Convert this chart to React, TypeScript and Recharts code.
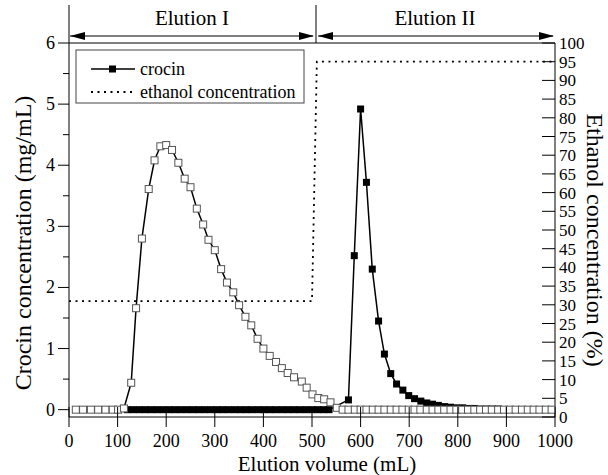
import React from "react";
import {
  ComposedChart,
  Line,
  XAxis,
  YAxis,
  ReferenceLine,
} from "recharts";

const FONT = "'Liberation Serif', 'Times New Roman', serif";

// open squares: elution I fractions, then baseline after the step
const openVolume = [
  14, 29, 45, 60, 75, 90, 101, 113, 128, 138, 150, 164, 176, 188, 200, 212, 225, 238,
  250, 263, 276, 287, 300, 313, 325, 338, 350, 363, 375, 388, 400, 413, 426, 438, 450,
  463, 479, 489, 501, 513, 525, 538, 551, 563, 575, 588, 600, 612, 625, 637, 649, 662,
  674, 686, 699, 711, 723, 736, 748, 760, 772, 785, 797, 809, 821, 834, 846, 858, 870,
  883, 895, 907, 919, 932, 944, 956, 968, 981, 993,
];
const openCrocin = [
  0, 0, 0, 0, 0, 0, 0, 0.02, 0.44, 1.66, 2.8, 3.61, 4.08, 4.31, 4.33, 4.25, 4.04, 3.78,
  3.64, 3.29, 3.03, 2.78, 2.61, 2.3, 2.08, 1.92, 1.71, 1.52, 1.38, 1.16, 1.0, 0.88, 0.78,
  0.68, 0.6, 0.53, 0.46, 0.36, 0.25, 0.19, 0.17, 0.12, 0.03, 0, 0, 0, 0, 0, 0, 0, 0, 0,
  0, 0, 0, 0, 0, 0, 0, 0, 0, 0, 0, 0, 0, 0, 0, 0, 0, 0, 0, 0, 0, 0, 0, 0, 0, 0, 0,
];

// filled squares: baseline during elution I, then elution II peak
const filledVolume = [
  120, 132, 145, 157, 169, 181, 194, 206, 218, 230, 243, 255, 267, 279, 292, 304, 316,
  328, 341, 353, 365, 377, 390, 402, 414, 426, 439, 451, 463, 475, 488, 500, 512, 524,
  535, 575, 587, 600, 612, 624, 637, 649, 662, 674, 687, 699, 711, 724, 736, 748, 760,
  773, 785, 797, 810, 822, 834, 846, 859, 871, 883,
];
const filledCrocin = [
  0, 0, 0, 0, 0, 0, 0, 0, 0, 0, 0, 0, 0, 0, 0, 0, 0, 0, 0, 0, 0, 0, 0, 0, 0, 0, 0, 0, 0,
  0, 0, 0, 0, 0, 0, 0.16, 2.52, 4.92, 3.72, 2.3, 1.45, 0.91, 0.59, 0.42, 0.32, 0.23,
  0.18, 0.14, 0.11, 0.09, 0.07, 0.05, 0.04, 0.03, 0.03, 0.02, 0.02, 0.01, 0.01, 0.01,
  0.01,
];

const ethanolVolume = [0, 500, 510, 1000];
const ethanolPercent = [31, 31, 95, 95];

const xTicks = [0, 100, 200, 300, 400, 500, 600, 700, 800, 900, 1000];
const leftTicks = [0, 0.5, 1, 1.5, 2, 2.5, 3, 3.5, 4, 4.5, 5, 5.5, 6];
const rightTicks = [0, 5, 10, 15, 20, 25, 30, 35, 40, 45, 50, 55, 60, 65, 70, 75, 80, 85, 90, 95, 100];

const openData = openVolume.map((v, i) => ({ v, c: openCrocin[i] }));
const filledData = filledVolume.map((v, i) => ({ v, c: filledCrocin[i] }));
const ethanolData = ethanolVolume.map((v, i) => ({ v, e: ethanolPercent[i] }));

const OpenSquare = (p: any) => (
  <rect key={`o${p.index}`} x={p.cx - 3.5} y={p.cy - 3.5} width={7} height={7} fill="#fff" stroke="#555" strokeWidth={1} />
);
const FilledSquare = (p: any) => (
  <rect key={`f${p.index}`} x={p.cx - 3.5} y={p.cy - 3.5} width={7} height={7} fill="#000" />
);

const LeftTick = ({ x, y, payload }: any) => {
  const major = Number.isInteger(payload.value);
  return (
    <g>
      <line x1={x - (major ? 11 : 6)} x2={x} y1={y} y2={y} stroke="#000" />
      {major && (
        <text x={x - 14} y={y} dy={6} textAnchor="end" fontSize={18} fontFamily={FONT} fill="#000">
          {payload.value}
        </text>
      )}
    </g>
  );
};

const RightTick = ({ x, y, payload }: any) => (
  <g>
    <line x1={x - 13} x2={x} y1={y} y2={y} stroke="#000" />
    <text x={x + 4} y={y} dy={6} textAnchor="start" fontSize={17} fontFamily={FONT} fill="#000">
      {payload.value}
    </text>
  </g>
);

const BottomTick = ({ x, y, payload }: any) => (
  <g>
    <line x1={x} x2={x} y1={y - 10} y2={y + 10} stroke="#000" />
    <text x={x} y={y + 30} textAnchor="middle" fontSize={18} fontFamily={FONT} fill="#000">
      {payload.value}
    </text>
  </g>
);

export default function App() {
  return (
    <div style={{ position: "absolute", left: 0, top: 0, width: 608, height: 475, background: "#fff" }}>
      <ComposedChart width={608} height={475} margin={{ top: 43, right: 8, bottom: 18, left: 19 }}>
        <XAxis
          type="number"
          dataKey="v"
          domain={[0, 1000]}
          ticks={xTicks}
          interval={0}
          height={40}
          tickSize={0}
          tickMargin={0}
          tick={<BottomTick />}
          axisLine={{ stroke: "#000" }}
          allowDuplicatedCategory={false}
        />
        <YAxis
          yAxisId="left"
          domain={[-0.12, 6]}
          ticks={leftTicks}
          interval={0}
          width={50}
          tickSize={0}
          tickMargin={0}
          tick={<LeftTick />}
          axisLine={{ stroke: "#000" }}
          allowDataOverflow
        />
        <YAxis
          yAxisId="right"
          orientation="right"
          domain={[0, 100]}
          ticks={rightTicks}
          interval={0}
          width={45}
          tickSize={0}
          tickMargin={0}
          tick={<RightTick />}
          axisLine={{ stroke: "#000" }}
        />
        <ReferenceLine yAxisId="left" y={6} stroke="#000" />
        <Line
          yAxisId="right"
          data={ethanolData}
          dataKey="e"
          type="linear"
          stroke="#000"
          strokeWidth={1.8}
          strokeDasharray="2 4.5"
          dot={false}
          activeDot={false}
          isAnimationActive={false}
        />
        <Line
          yAxisId="left"
          data={filledData}
          dataKey="c"
          type="linear"
          stroke="#000"
          strokeWidth={1.5}
          dot={FilledSquare}
          activeDot={false}
          isAnimationActive={false}
        />
        <Line
          yAxisId="left"
          data={openData}
          dataKey="c"
          type="linear"
          stroke="#000"
          strokeWidth={1.5}
          dot={OpenSquare}
          activeDot={false}
          isAnimationActive={false}
        />
      </ComposedChart>
      <svg
        width={608}
        height={475}
        style={{ position: "absolute", left: 0, top: 0, pointerEvents: "none" }}
        fontFamily={FONT}
      >
        {/* elution phases above the plot */}
        <line x1={69} x2={69} y1={5} y2={43} stroke="#000" />
        <line x1={316} x2={316} y1={5} y2={43} stroke="#000" />
        <line x1={70} x2={313} y1={36} y2={36} stroke="#000" />
        <line x1={318} x2={553} y1={36} y2={36} stroke="#000" />
        <polygon points="70,36 85,32 85,40" fill="#000" />
        <polygon points="314,36 299,32 299,40" fill="#000" />
        <polygon points="318,36 333,32 333,40" fill="#000" />
        <polygon points="554,36 539,32 539,40" fill="#000" />
        <text x={192} y={25} textAnchor="middle" fontSize={21}>Elution I</text>
        <text x={435} y={25} textAnchor="middle" fontSize={21}>Elution II</text>

        {/* legend */}
        <rect x={76} y={50} width={228} height={53} fill="#fff" stroke="#444" />
        <line x1={91} x2={135} y1={69} y2={69} stroke="#000" strokeWidth={1.5} />
        <rect x={109} y={65.5} width={7} height={7} fill="#000" />
        <text x={140} y={75} fontSize={18}>crocin</text>
        <line x1={91} x2={135} y1={92} y2={92} stroke="#000" strokeWidth={1.8} strokeDasharray="2 4.5" />
        <text x={140} y={98} fontSize={18}>ethanol concentration</text>

        {/* axis titles */}
        <text x={327} y={471} textAnchor="middle" fontSize={21}>Elution volume (mL)</text>
        <text transform="translate(31,243) rotate(-90)" textAnchor="middle" fontSize={24}>
          Crocin concentration (mg/mL)
        </text>
        <text transform="translate(587,240) rotate(90)" textAnchor="middle" fontSize={24}>
          Ethanol concentration (%)
        </text>
      </svg>
    </div>
  );
}
